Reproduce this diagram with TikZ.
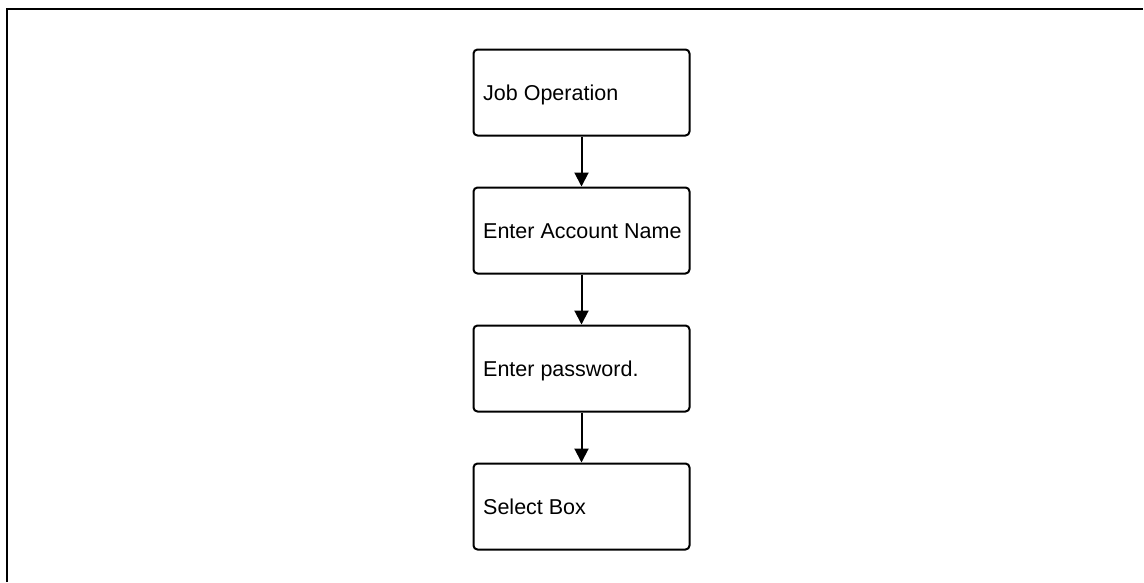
\documentclass[tikz,border=0pt]{standalone}
\usepackage{fontspec}
\setmainfont{Liberation Sans}
\usetikzlibrary{arrows.meta}
\begin{document}
\begin{tikzpicture}[x=1pt,y=-1pt,
  stepbox/.style={draw, line width=2pt, rounded corners=4pt, minimum width=216pt, minimum height=86pt, inner sep=0pt},
  steptext/.style={anchor=base west, font=\fontsize{21.5}{26}\selectfont, inner sep=0pt},
  flow/.style={line width=2pt, -{Triangle[width=14pt,length=14pt]}},
  frame/.style={line width=2.4pt}]
\useasboundingbox (0,0) rectangle (1144,582);
\draw[frame] (7,582) -- (7,9) -- (1143,9);
\node[stepbox] (b1) at (581.5,92.5) {};
\node[stepbox] (b2) at (581.5,230.5) {};
\node[stepbox] (b3) at (581.5,368.5) {};
\node[stepbox] (b4) at (581.5,506.5) {};
\node[steptext] (t1) at ([xshift=10.5pt,yshift=-7.7pt]b1.west) {Job Operation};
\node[steptext] (t2) at ([xshift=10.5pt,yshift=-7.7pt]b2.west) {Enter Account Name};
\node[steptext] (t3) at ([xshift=10.5pt,yshift=-7.7pt]b3.west) {Enter password.};
\node[steptext] (t4) at ([xshift=10.5pt,yshift=-7.7pt]b4.west) {Select Box};
\draw[flow] (b1) -- (b2);
\draw[flow] (b2) -- (b3);
\draw[flow] (b3) -- (b4);
\end{tikzpicture}
\end{document}
